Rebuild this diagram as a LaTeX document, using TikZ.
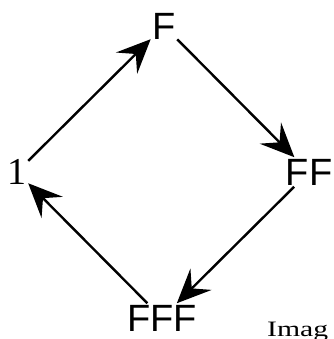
\documentclass[tikz,border=0pt]{standalone}
\usepackage{fontspec}
\setmainfont{Liberation Serif}
\newfontfamily\labelfont{Liberation Sans}
\usetikzlibrary{arrows.meta}

\begin{document}
\begin{tikzpicture}[
  x=1pt, y=-1pt,
  state/.style={inner sep=1.5pt, font=\labelfont\fontsize{38}{38}\selectfont},
  unit/.style={inner sep=1.5pt, font=\fontsize{38}{38}\selectfont},
  move/.style={line width=2.4pt, -{Stealth[length=34pt, width=30pt, inset=13pt]}}
]
  \useasboundingbox (0,0) rectangle (333,339);
  \clip (0,0) rectangle (333,339);

  \node[unit]  (one) at (17,172)  {1};
  \node[state] (f)   at (164,26)  {F};
  \node[state] (ff)  at (309,172) {FF};
  \node[state] (fff) at (162,318) {FFF};

  % cycle of arrows
  \draw[move] (one) -- (f);
  \draw[move] (f)   -- (ff);
  \draw[move] (ff)  -- (fff);
  \draw[move] (fff) -- (one);

  % caption text cut by the frame
  \node[anchor=base west, inner sep=0pt, font=\fontsize{22}{22}\selectfont] (cap) at (267,336) {\scalebox{1.35}[1]{Imag}};
\end{tikzpicture}
\end{document}
